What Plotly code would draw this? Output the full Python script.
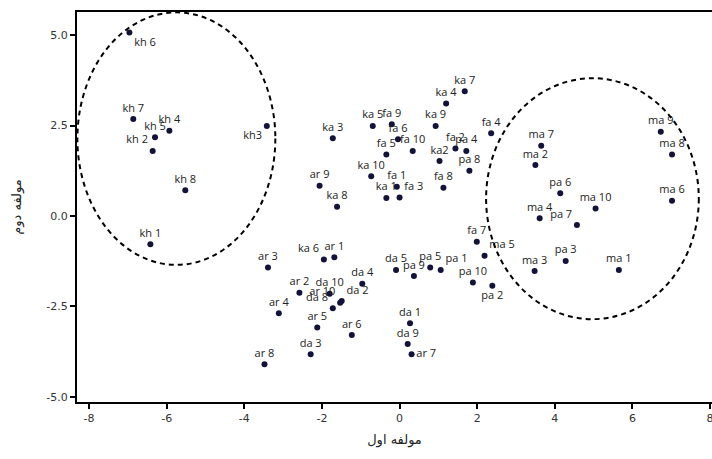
import plotly.graph_objects as go

# ---- data ----
labels = ["kh 1", "kh 2", "kh3", "kh 4", "kh 5", "kh 6", "kh 7", "kh 8",
          "ka 1", "ka2", "ka 3", "ka 4", "ka 5", "ka 6", "ka 7", "ka 8", "ka 9", "ka 10",
          "fa 1", "fa 2", "fa 3", "fa 4", "fa 5", "fa 6", "fa 7", "fa 8", "fa 9", "fa 10",
          "pa 1", "pa 2", "pa 3", "pa 4", "pa 5", "pa 6", "pa 7", "pa 8", "pa 9", "pa 10",
          "ma 1", "ma 2", "ma 3", "ma 4", "ma 5", "ma 6", "ma 7", "ma 8", "ma 9", "ma 10",
          "ar 1", "ar 2", "ar 3", "ar 4", "ar 5", "ar 6", "ar 7", "ar 8", "ar 9", "ar 10",
          "da 1", "da 2", "da 3", "da 4", "da 5", "da 8", "da 9", "da 10"]
pc1 = [-6.42, -6.36, -3.42, -5.93, -6.30, -6.96, -6.86, -5.52,
       -0.34, 1.03, -1.72, 1.20, -0.69, -1.95, 1.68, -1.61, 0.93, -0.73,
       -0.07, 1.44, 0.00, 2.36, -0.34, -0.04, 1.99, 1.13, -0.20, 0.34,
       1.06, 2.39, 4.28, 1.72, 0.79, 4.14, 4.57, 1.80, 0.37, 1.89,
       5.65, 3.50, 3.48, 3.61, 2.19, 7.02, 3.65, 7.02, 6.73, 5.05,
       -1.68, -2.58, -3.39, -3.11, -2.12, -1.23, 0.31, -3.48, -2.06, -1.53,
       0.27, -1.49, -2.29, -0.96, -0.09, -1.72, 0.21, -1.80]
pc2 = [-0.78, 1.80, 2.49, 2.36, 2.18, 5.07, 2.68, 0.71,
       0.50, 1.52, 2.15, 3.11, 2.49, -1.20, 3.45, 0.26, 2.49, 1.10,
       0.81, 1.87, 0.51, 2.29, 1.70, 2.12, -0.71, 0.78, 2.54, 1.80,
       -1.49, -1.93, -1.24, 1.80, -1.42, 0.63, -0.25, 1.25, -1.66, -1.84,
       -1.49, 1.41, -1.52, -0.06, -1.10, 0.42, 1.94, 1.70, 2.33, 0.21,
       -1.14, -2.12, -1.42, -2.69, -3.08, -3.29, -3.82, -4.10, 0.84, -2.40,
       -2.96, -2.35, -3.82, -1.87, -1.49, -2.55, -3.54, -2.15]

# dashed cluster ellipses (centre and half-axes, in data units)
ell_cx = [-5.75, 4.97]
ell_cy = [2.14, 0.48]
ell_rx = [2.55, 2.74]
ell_ry = [3.49, 3.33]

x_ticks = [-8, -6, -4, -2, 0, 2, 4, 6, 8]
y_ticks = [-5.0, -2.5, 0.0, 2.5, 5.0]
x_title = "مولفه اول"
y_title = "مولفه دوم"

# ---- label placement (style) ----
pos_override = {
    "kh 6": "bottom right", "kh 2": "top left", "kh3": "bottom left",
    "fa 3": "top right", "pa 7": "top left", "ma 5": "top right",
    "pa 2": "bottom center", "ka 6": "top left", "ar 10": "top left",
    "da 2": "top right", "da 8": "top left", "pa 1": "top right",
    "ar 7": "middle right",
}
text_pos = [pos_override.get(l, "top center") for l in labels]

fig = go.Figure()
fig.add_trace(go.Scatter(
    x=pc1, y=pc2, mode="markers+text", text=labels, textposition=text_pos,
    marker=dict(size=6, color="#12123a"),
    textfont=dict(family="Open Sans, DejaVu Sans, sans-serif", size=11, color="#222222"),
    cliponaxis=False, showlegend=False,
))

for cx, cy, rx, ry in zip(ell_cx, ell_cy, ell_rx, ell_ry):
    fig.add_shape(type="circle", xref="x", yref="y",
                  x0=cx - rx, x1=cx + rx, y0=cy - ry, y1=cy + ry,
                  line=dict(color="black", width=2, dash="5px,4px"))

axis_common = dict(showgrid=False, zeroline=False, showline=True, mirror=True,
                   linecolor="black", linewidth=2, ticks="outside", ticklen=5,
                   tickwidth=2, tickcolor="black", automargin=False,
                   ticklabeloverflow="allow",
                   tickfont=dict(family="DejaVu Sans", size=11, color="#333333"))

fig.update_xaxes(range=[-8.31, 8.05], tickvals=x_ticks,
                 ticktext=[str(v) for v in x_ticks],
                 title=dict(text=x_title, font=dict(family="DejaVu Sans", size=13, color="#222"),
                            standoff=11),
                 **axis_common)
fig.update_yaxes(range=[-5.14, 5.64], tickvals=y_ticks,
                 ticktext=[f"{v:.1f}" for v in y_ticks],
                 title=dict(text=y_title, font=dict(family="DejaVu Sans", size=13, color="#222"),
                            standoff=22),
                 **axis_common)

fig.update_layout(
    width=712, height=459,
    margin=dict(l=77, r=0, t=12, b=57, autoexpand=False),
    plot_bgcolor="white", paper_bgcolor="white",
)

fig.write_html("out.html", config={"displayModeBar": False},
               post_script="document.body.style.margin='0px';document.body.style.overflow='hidden';")
